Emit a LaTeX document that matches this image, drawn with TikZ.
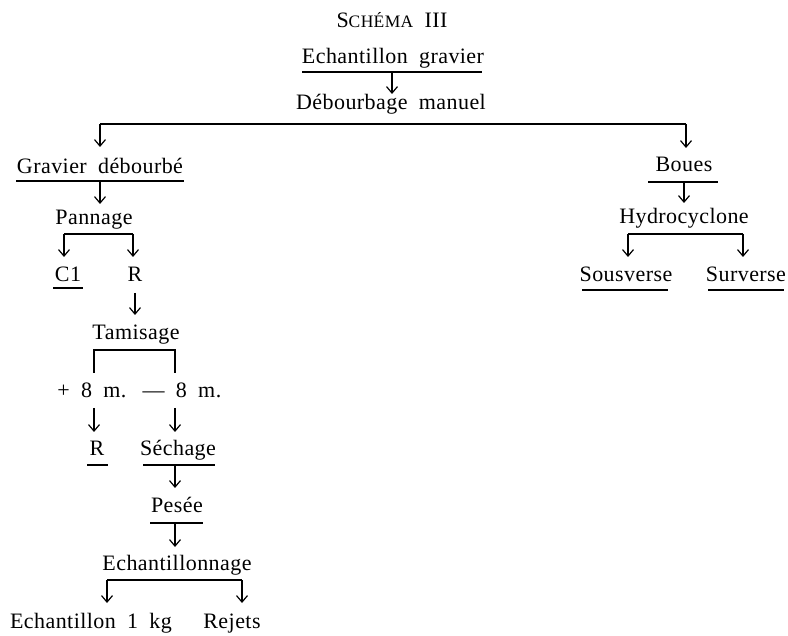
\documentclass[tikz,border=0pt]{standalone}
\usepackage{fontspec}
\setmainfont{Liberation Serif}[WordSpace=1.9,LetterSpace=2]
\usetikzlibrary{arrows.meta}
\begin{document}
\begin{tikzpicture}[x=1pt,y=-1pt,
  t/.style={anchor=base,inner sep=0pt,font=\fontsize{22}{26}\selectfont},
  ln/.style={line width=1.2pt},
  arr/.style={line width=1.2pt,-{Straight Barb[length=6.5pt,width=11pt,line width=1.2pt]}}]
\useasboundingbox (0,0) rectangle (788,636);
% texts
\node[t,font=\fontsize{22}{26}\selectfont] (title) at (392,28) {S{\fontsize{17.5}{20}\selectfont CHÉMA} III};
\node[t] (eg) at (393,64) {Echantillon gravier};
\node[t] (deb) at (391,110) {Débourbage manuel};
\node[t] (grav) at (100,174) {Gravier débourbé};
\node[t] (pan) at (94,225) {Pannage};
\node[t] (c1) at (68,282) {C1};
\node[t] (r1) at (135,282) {R};
\node[t] (tam) at (136,340) {Tamisage};
\node[t] (p8) at (92,398) {+ 8 m.};
\node[t] (m8) at (182,398) {— 8 m.};
\node[t] (r2) at (97,456) {R};
\node[t] (sech) at (178,456) {Séchage};
\node[t] (pes) at (177,513) {Pesée};
\node[t] (ech) at (177,570) {Echantillonnage};
\node[t] (e1) at (91,628) {Echantillon 1 kg};
\node[t] (rej) at (232,628) {Rejets};
\node[t] (bou) at (684,172) {Boues};
\node[t] (hyd) at (684,224) {Hydrocyclone};
\node[t] (sous) at (626,282) {Sousverse};
\node[t] (sur) at (746,282) {Surverse};
% underlines
\draw[ln] (302,72) -- (482,72);
\draw[ln] (16,181) -- (184,181);
\draw[ln] (53,288) -- (83,288);
\draw[ln] (87,465) -- (108,465);
\draw[ln] (143,465) -- (215,465);
\draw[ln] (150,523) -- (203,523);
\draw[ln] (648,182) -- (718,182);
\draw[ln] (582,290) -- (668,290);
\draw[ln] (708,290) -- (784,290);
% coordinates
\coordinate (egU) at (392,72);
\coordinate (debL) at (100,124);
\coordinate (debR) at (686,124);
\coordinate (gravU) at (100,181);
\coordinate (panL) at (64,234);
\coordinate (panR) at (133,234);
\coordinate (r1U) at (135,293);
\coordinate (tamL) at (94,350);
\coordinate (tamR) at (175,350);
\coordinate (sechU) at (175,465);
\coordinate (pesU) at (175,523);
\coordinate (echL) at (107,580);
\coordinate (echR) at (242,580);
\coordinate (bouU) at (684,182);
\coordinate (hydL) at (628,234);
\coordinate (hydR) at (743,234);
% connectors
\draw[arr] (egU) -- (392,94);
\draw[ln] (debL) -- (debR);
\draw[arr] (debL) -- (100,147);
\draw[arr] (debR) -- (686,148);
\draw[arr] (gravU) -- (100,204);
\draw[ln] (panL) -- (panR);
\draw[arr] (panL) -- (64,257);
\draw[arr] (panR) -- (133,257);
\draw[arr] (r1U) -- (135,315);
\draw[ln] (94,373) -- (tamL) -- (tamR) -- (175,373);
\draw[arr,line width=1.6pt] (94,408) -- (94,432);
\draw[arr] (175,408) -- (175,432);
\draw[arr] (sechU) -- (175,488);
\draw[arr] (pesU) -- (175,547);
\draw[ln] (echL) -- (echR);
\draw[arr] (echL) -- (107,603);
\draw[arr] (echR) -- (242,603);
\draw[arr] (bouU) -- (684,203);
\draw[ln] (hydL) -- (hydR);
\draw[arr] (hydL) -- (628,257);
\draw[arr] (hydR) -- (743,257);
\end{tikzpicture}
\end{document}
